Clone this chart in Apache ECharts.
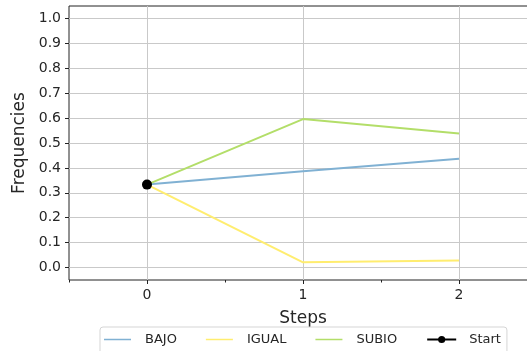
<!DOCTYPE html>
<html>
<head>
<meta charset="utf-8">
<script src="https://cdn.jsdelivr.net/npm/echarts@6/dist/echarts.min.js"></script>
<style>
  html, body { margin: 0; padding: 0; background: #fff; }
  #chart { width: 527px; height: 351px; }
</style>
</head>
<body>
<div id="chart"></div>
<script>
// Step positions and their tick labels
const steps = [0, 1, 2];
const stepLabels = ['0', '1', '2'];
// Frequency tick labels
const freqLabels = ['0.0', '0.1', '0.2', '0.3', '0.4', '0.5', '0.6', '0.7', '0.8', '0.9', '1.0'];

// Frequencies per outcome at each step
const bajo  = [0.333, 0.387, 0.437];
const igual = [0.333, 0.021, 0.028];
const subio = [0.333, 0.596, 0.538];
// Starting point
const startStep = [0];
const startFreq = [0.333];

const FONT = 'DejaVu Sans';
const SPINE = '#222222';
const GRID = '#c9c9c9';
// Plain line swatch for the legend (thin bar centred in a tall box)
const LINE_ICON = 'path://M0,0L0.01,0M0,4.2L30,4.2L30,5.8L0,5.8ZM0,10L0.01,10';

const pairs = (xs, ys) => xs.map((x, i) => [x, ys[i]]);

const chart = echarts.init(document.getElementById('chart'), null, { renderer: 'canvas' });

const lineSeries = (name, values, color) => ({
  name: name,
  type: 'line',
  xAxisIndex: 0,
  yAxisIndex: 0,
  data: pairs(steps, values),
  symbol: 'none',
  lineStyle: { color: color, width: 2 },
  itemStyle: { color: color },
  z: 3
});

chart.setOption({
  animation: false,
  textStyle: { fontFamily: FONT },
  grid: {
    left: 69, top: 6, width: 468, height: 274,
    containLabel: false, outerBoundsMode: 'none',
    show: true, borderColor: SPINE, borderWidth: 1, backgroundColor: 'transparent'
  },
  xAxis: [
    { // data axis, carries the vertical grid lines at whole steps
      type: 'value', min: -0.5, max: 2.5, interval: 0.5,
      axisLine: { show: false, onZero: false },
      axisTick: { show: false }, axisLabel: { show: false },
      splitLine: { show: true, lineStyle: { color: ['transparent', GRID], width: 1 } }
    },
    { // minor ticks at half steps
      type: 'value', min: -0.5, max: 2.5, interval: 1, position: 'bottom',
      axisLine: { show: false, onZero: false },
      axisTick: { show: true, length: 2.5, lineStyle: { color: SPINE, width: 1 } },
      axisLabel: { show: false }, splitLine: { show: false }
    },
    { // major ticks and labels
      type: 'category', data: stepLabels, boundaryGap: true, position: 'bottom',
      axisLine: { show: false, onZero: false },
      axisTick: { show: true, alignWithLabel: true, length: 4, lineStyle: { color: SPINE, width: 1 } },
      axisLabel: { show: true, margin: 8, fontSize: 14, color: '#262626', fontFamily: FONT },
      splitLine: { show: false },
      name: 'Steps', nameLocation: 'middle', nameGap: 30,
      nameTextStyle: { fontSize: 17, color: '#262626', fontFamily: FONT }
    }
  ],
  yAxis: [
    { // data axis, carries the horizontal grid lines
      type: 'value', min: -0.05, max: 1.05, interval: 0.05,
      axisLine: { show: false, onZero: false },
      axisTick: { show: false }, axisLabel: { show: false },
      splitLine: { show: true, lineStyle: { color: ['transparent', GRID], width: 1 } }
    },
    { // ticks and labels at each tenth
      type: 'category', data: freqLabels, boundaryGap: true, position: 'left',
      axisLine: { show: false, onZero: false },
      axisTick: { show: true, alignWithLabel: true, length: 4, lineStyle: { color: SPINE, width: 1 } },
      axisLabel: { show: true, margin: 8, fontSize: 14, color: '#262626', fontFamily: FONT },
      splitLine: { show: false },
      name: 'Frequencies', nameLocation: 'middle', nameGap: 34, nameRotate: 90,
      nameTextStyle: { fontSize: 17, color: '#262626', fontFamily: FONT }
    }
  ],
  legend: {
    data: [
      { name: 'BAJO', icon: LINE_ICON },
      { name: 'IGUAL', icon: LINE_ICON },
      { name: 'SUBIO', icon: LINE_ICON },
      { name: 'Start' }
    ],
    left: 100, top: 327,
    orient: 'horizontal',
    itemWidth: 29, itemHeight: 9, itemGap: 29,
    padding: [6, 6, 12, 4],
    borderColor: '#d5d5d5', borderWidth: 1, borderRadius: 3,
    backgroundColor: '#ffffff',
    textStyle: { fontSize: 13, color: '#262626', fontFamily: FONT, padding: [0, 0, 0, 8] }
  },
  series: [
    lineSeries('BAJO', bajo, '#80b1d3'),
    lineSeries('IGUAL', igual, '#ffed6f'),
    lineSeries('SUBIO', subio, '#b3de69'),
    {
      name: 'Start',
      type: 'line',
      xAxisIndex: 0,
      yAxisIndex: 0,
      data: pairs(startStep, startFreq),
      symbol: 'circle',
      symbolSize: 10,
      showSymbol: true,
      lineStyle: { color: '#000000', width: 2 },
      itemStyle: { color: '#000000' },
      z: 5
    }
  ]
});
</script>
</body>
</html>
